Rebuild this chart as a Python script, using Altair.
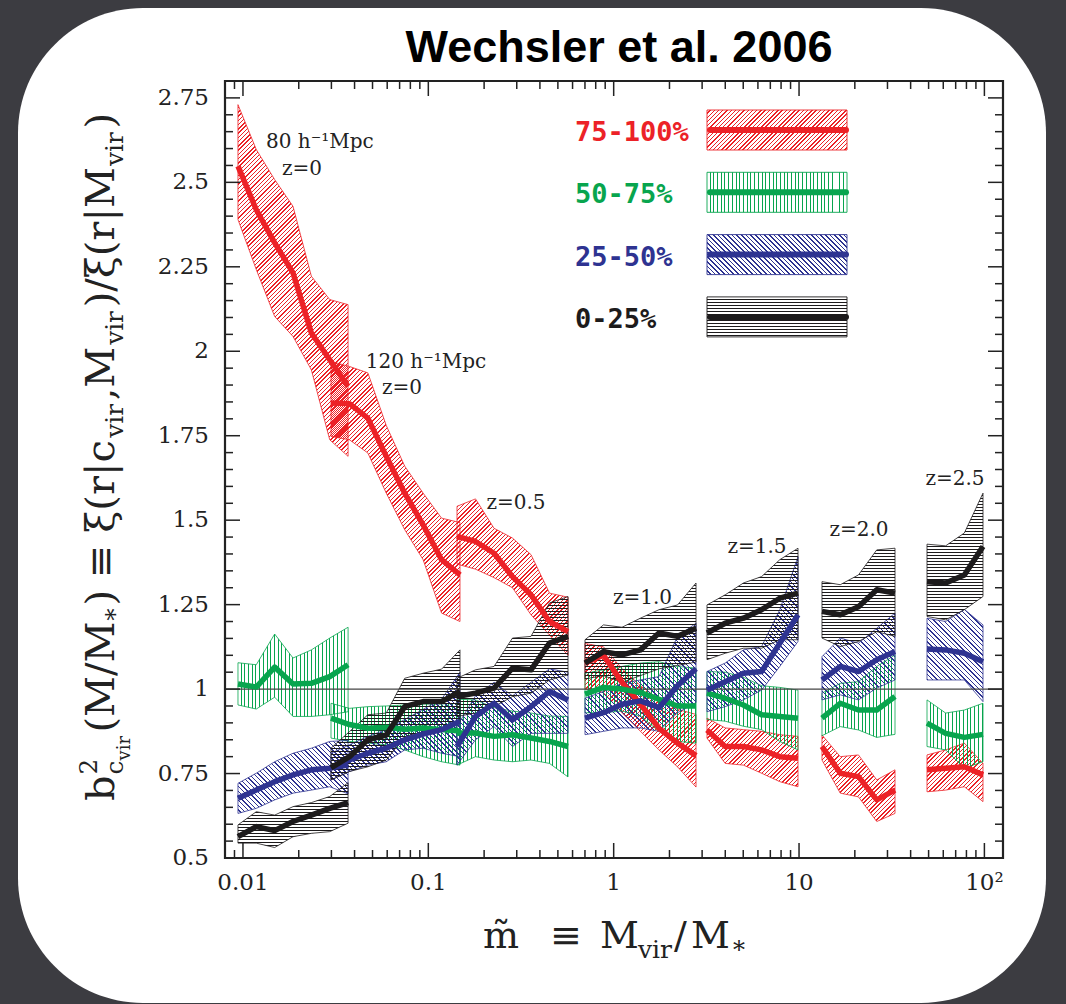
import math
import altair as alt
import pandas as pd

# ------------------------------------------------------------------ data
SERIES = ["75-100%", "50-75%", "25-50%", "0-25%"]

# mass bins (M_vir / M_*) of the seven simulation / redshift segments
X_SEG = [
    [0.00940, 0.01180, 0.01483, 0.01862, 0.02339, 0.02938, 0.03690],
    [0.02985, 0.03753, 0.04718, 0.05932, 0.07458, 0.09376, 0.1179, 0.1482],
    [0.1428, 0.1797, 0.2262, 0.2845, 0.3580, 0.4506, 0.5670],
    [0.7003, 0.8812, 1.109, 1.395, 1.756, 2.210, 2.781],
    [3.187, 3.995, 5.010, 6.281, 7.875, 9.872],
    [13.30, 16.69, 20.93, 26.26, 32.94],
    [49.02, 61.81, 77.95, 98.28],
]

RED_MID = [
    [2.548, 2.419, 2.321, 2.232, 2.054, 1.975, 1.896],
    [1.847, 1.845, 1.802, 1.689, 1.580, 1.486, 1.383, 1.338],
    [1.452, 1.437, 1.402, 1.333, 1.279, 1.200, 1.170],
    [1.077, 1.100, 1.020, 0.955, 0.884, 0.840, 0.803],
    [0.879, 0.830, 0.830, 0.820, 0.800, 0.795],
    [0.830, 0.751, 0.741, 0.672, 0.701],
    [0.761, 0.766, 0.770, 0.746],
]
RED_HI = [
    [2.730, 2.597, 2.508, 2.429, 2.222, 2.153, 2.138],
    [1.970, 1.955, 1.936, 1.780, 1.660, 1.580, 1.506, 1.493],
    [1.541, 1.563, 1.476, 1.447, 1.398, 1.284, 1.272],
    [1.135, 1.125, 1.060, 1.010, 0.970, 0.940, 0.925],
    [0.914, 0.885, 0.880, 0.875, 0.865, 0.860],
    [0.864, 0.800, 0.805, 0.731, 0.761],
    [0.805, 0.820, 0.840, 0.780],
]
RED_LO = [
    [2.390, 2.242, 2.103, 2.044, 1.945, 1.738, 1.689],
    [1.748, 1.738, 1.699, 1.580, 1.472, 1.383, 1.225, 1.200],
    [1.370, 1.355, 1.330, 1.300, 1.220, 1.160, 1.100],
    [1.000, 0.990, 0.930, 0.875, 0.820, 0.770, 0.710],
    [0.855, 0.780, 0.775, 0.751, 0.726, 0.711],
    [0.790, 0.692, 0.681, 0.608, 0.632],
    [0.696, 0.701, 0.711, 0.667],
]
GRN_MID = [
    [1.015, 1.006, 1.065, 1.015, 1.017, 1.037, 1.072],
    [0.914, 0.895, 0.884, 0.887, 0.881, 0.885, 0.880, 0.876],
    [0.870, 0.870, 0.860, 0.865, 0.855, 0.845, 0.830],
    [0.985, 1.005, 1.000, 0.990, 0.970, 0.950, 0.950],
    [0.988, 0.973, 0.953, 0.924, 0.919, 0.914],
    [0.914, 0.958, 0.938, 0.938, 0.978],
    [0.899, 0.869, 0.857, 0.866],
]
GRN_HI = [
    [1.078, 1.072, 1.163, 1.092, 1.116, 1.151, 1.183],
    [0.958, 0.943, 0.948, 0.950, 0.953, 0.956, 0.956, 0.958],
    [0.970, 0.968, 0.945, 0.935, 0.929, 0.920, 0.919],
    [1.047, 1.057, 1.067, 1.077, 1.081, 1.067, 1.062],
    [1.052, 1.050, 1.035, 1.010, 1.005, 0.997],
    [0.988, 1.017, 1.022, 1.067, 1.101],
    [0.968, 0.929, 0.938, 0.958],
]
GRN_LO = [
    [0.953, 0.941, 0.976, 0.919, 0.919, 0.924, 0.933],
    [0.855, 0.845, 0.840, 0.835, 0.820, 0.800, 0.785, 0.775],
    [0.775, 0.800, 0.790, 0.785, 0.790, 0.780, 0.740],
    [0.930, 0.930, 0.935, 0.920, 0.875, 0.845, 0.840],
    [0.910, 0.905, 0.890, 0.880, 0.845, 0.820],
    [0.862, 0.889, 0.879, 0.857, 0.866],
    [0.830, 0.820, 0.766, 0.785],
]
BLU_MID = [
    [0.677, 0.701, 0.726, 0.746, 0.761, 0.766, 0.775],
    [0.767, 0.790, 0.810, 0.825, 0.850, 0.867, 0.880, 0.905],
    [0.830, 0.919, 0.958, 0.909, 0.948, 0.993, 0.968],
    [0.914, 0.930, 0.955, 0.965, 0.945, 1.010, 1.060],
    [0.997, 1.022, 1.047, 1.052, 1.136, 1.220],
    [1.027, 1.067, 1.052, 1.087, 1.111],
    [1.119, 1.116, 1.106, 1.081],
]
BLU_HI = [
    [0.721, 0.751, 0.785, 0.810, 0.825, 0.845, 0.848],
    [0.810, 0.835, 0.860, 0.880, 0.910, 0.940, 0.970, 1.050],
    [0.890, 0.980, 1.020, 0.980, 1.020, 1.060, 1.050],
    [0.973, 0.993, 1.017, 1.027, 1.037, 1.156, 1.195],
    [1.052, 1.077, 1.116, 1.126, 1.235, 1.392],
    [1.096, 1.151, 1.136, 1.180, 1.225],
    [1.210, 1.200, 1.236, 1.190],
]
BLU_LO = [
    [0.632, 0.647, 0.672, 0.692, 0.701, 0.711, 0.690],
    [0.731, 0.756, 0.775, 0.785, 0.820, 0.825, 0.810, 0.800],
    [0.775, 0.850, 0.889, 0.830, 0.869, 0.869, 0.869],
    [0.865, 0.875, 0.885, 0.885, 0.875, 0.930, 0.960],
    [0.933, 0.948, 0.968, 0.997, 1.067, 1.141],
    [0.968, 0.983, 0.968, 1.003, 1.027],
    [1.027, 1.027, 1.027, 0.963],
]
BLK_MID = [
    [0.563, 0.593, 0.581, 0.608, 0.627, 0.647, 0.664],
    [0.767, 0.800, 0.850, 0.864, 0.948, 0.963, 0.963, 0.993],
    [0.978, 0.988, 1.003, 1.062, 1.057, 1.136, 1.156],
    [1.077, 1.111, 1.101, 1.116, 1.166, 1.156, 1.180],
    [1.166, 1.195, 1.210, 1.235, 1.269, 1.284],
    [1.230, 1.220, 1.244, 1.294, 1.284],
    [1.318, 1.314, 1.338, 1.422],
]
BLK_HI = [
    [0.598, 0.637, 0.627, 0.652, 0.664, 0.682, 0.723],
    [0.825, 0.874, 0.924, 0.929, 1.032, 1.047, 1.059, 1.116],
    [1.032, 1.057, 1.067, 1.151, 1.156, 1.255, 1.274],
    [1.146, 1.190, 1.183, 1.210, 1.235, 1.249, 1.314],
    [1.249, 1.279, 1.314, 1.333, 1.383, 1.417],
    [1.318, 1.309, 1.338, 1.412, 1.417],
    [1.429, 1.424, 1.462, 1.580],
]
BLK_LO = [
    [0.544, 0.544, 0.531, 0.563, 0.573, 0.578, 0.603],
    [0.731, 0.756, 0.770, 0.790, 0.859, 0.874, 0.884, 0.899],
    [0.919, 0.929, 0.948, 0.978, 0.988, 1.027, 1.042],
    [1.030, 1.040, 1.020, 1.040, 1.060, 1.070, 1.080],
    [1.087, 1.106, 1.121, 1.121, 1.146, 1.146],
    [1.151, 1.126, 1.141, 1.170, 1.156],
    [1.215, 1.205, 1.235, 1.274],
]

ANNOT_TEXT = ["80 h\u207b\u00b9Mpc", "z=0", "120 h\u207b\u00b9Mpc", "z=0", "z=0.5",
              "z=1.0", "z=1.5", "z=2.0", "z=2.5"]
ANNOT_X = [0.0260, 0.0208, 0.0972, 0.0721, 0.297, 1.431, 5.93, 21.06, 69.4]
ANNOT_Y = [2.619, 2.540, 1.968, 1.891, 1.551, 1.270, 1.421, 1.471, 1.622]

X_MAJOR = [0.01, 0.1, 1, 10, 100]
X_LABELS = ["0.01", "0.1", "1", "10", "10\u00b2"]
Y_MAJOR = [0.5, 0.75, 1.0, 1.25, 1.5, 1.75, 2.0, 2.25, 2.5, 2.75]
Y_LABELS = ["0.5", "0.75", "1", "1.25", "1.5", "1.75", "2", "2.25", "2.5", "2.75"]

# ------------------------------------------------------------------ styling
COLORS = {"75-100%": "#ec2227", "50-75%": "#08a54e", "25-50%": "#2e3391", "0-25%": "#1d1b1c"}
HATCH = {"75-100%": ("f", 3.0), "50-75%": ("v", 3.7), "25-50%": ("b", 3.3), "0-25%": ("h", 3.0)}
TABLE = {"75-100%": (RED_MID, RED_LO, RED_HI), "50-75%": (GRN_MID, GRN_LO, GRN_HI),
         "25-50%": (BLU_MID, BLU_LO, BLU_HI), "0-25%": (BLK_MID, BLK_LO, BLK_HI)}

XDOM = [0.008, 126.0]
YDOM = [0.5, 2.8]
PW, PH = 778, 777
OX, OY = 225, 81
INK = "#222222"
CLEAR = "rgba(255,255,255,0)"

XS = alt.Scale(type="log", domain=XDOM, nice=False)
YS = alt.Scale(domain=YDOM, nice=False, zero=False)
LX0, LX1 = math.log10(XDOM[0]), math.log10(XDOM[1])


def px(x):
    return (math.log10(x) - LX0) / (LX1 - LX0) * PW


def py(y):
    return (YDOM[1] - y) / (YDOM[1] - YDOM[0]) * PH


def hatch_fill(kind, color, W, H, period, lw=1.0):
    W = max(W, 1.0)
    H = max(H, 1.0)
    if kind == "h":
        g = dict(x1=0, y1=0, x2=0, y2=1)
        L = H
    elif kind == "v":
        g = dict(x1=0, y1=0, x2=1, y2=0)
        L = W
    else:
        k = (W + H) / (W * W + H * H)
        if kind == "f":
            g = dict(x1=0, y1=0, x2=k * W, y2=k * H)
        else:
            g = dict(x1=0, y1=1, x2=k * W, y2=1 - k * H)
        L = (W + H) / math.sqrt(2)
    stops = []
    pos = 0.0
    while pos < L - 1e-9:
        a = min(pos + period - lw, L)
        b = min(pos + period, L)
        stops += [(pos / L, CLEAR), (a / L, CLEAR), (a / L, color), (b / L, color)]
        pos += period
    return alt.LinearGradient(
        gradient="linear",
        stops=[alt.GradientStop(color=c, offset=round(min(o, 1.0), 5)) for o, c in stops],
        **g,
    )


rows = []
for s in SERIES:
    mid, lo, hi = TABLE[s]
    for j, xs in enumerate(X_SEG):
        for i, x in enumerate(xs):
            rows.append(dict(series=s, seg=j, x=x, mid=mid[j][i], lo=lo[j][i], hi=hi[j][i]))
df = pd.DataFrame(rows)
ONE = pd.DataFrame({"k": [0]})

layers = []

# white rounded panel
layers.append(
    alt.Chart(ONE).mark_rect(color="white", cornerRadius=125).encode(
        x=alt.value(18 - OX), x2=alt.value(1046 - OX), y=alt.value(8 - OY), y2=alt.value(1003 - OY)
    )
)

# hatched bands
for s in SERIES:
    kind, period = HATCH[s]
    for j in range(len(X_SEG)):
        sub = df[(df.series == s) & (df.seg == j)]
        W = px(sub.x.max()) - px(sub.x.min())
        H = py(sub.lo.min()) - py(sub.hi.max())
        layers.append(
            alt.Chart(sub).mark_area(
                fill=hatch_fill(kind, COLORS[s], W, H, period),
                stroke=COLORS[s], strokeWidth=0.8,
            ).encode(
                x=alt.X("x:Q", scale=XS, axis=None),
                y=alt.Y("hi:Q", scale=YS, axis=None),
                y2=alt.Y2("lo:Q"),
            )
        )

# reference line at 1
layers.append(
    alt.Chart(ONE).mark_rule(color="#444444", strokeWidth=1.1).encode(
        y=alt.Y(datum=1.0, scale=YS, axis=None)
    )
)

# median lines
for s in SERIES:
    layers.append(
        alt.Chart(df[df.series == s]).mark_line(
            color=COLORS[s], strokeWidth=5.5, strokeJoin="round"
        ).encode(
            x=alt.X("x:Q", scale=XS, axis=None),
            y=alt.Y("mid:Q", scale=YS, axis=None),
            detail="seg:N",
        )
    )

# ticks (inward, all four sides)
x_minor = [k * 10.0 ** e for e in (-3, -2, -1, 0, 1) for k in range(2, 10)
           if XDOM[0] * 1.0001 < k * 10.0 ** e < XDOM[1]]
y_minor = [round(0.5 + 0.05 * i, 2) for i in range(1, 46) if i % 5 != 0]
MAJ, MIN = 15, 8
xt_major = pd.DataFrame({"x": X_MAJOR, "lab": X_LABELS})
xt_minor = pd.DataFrame({"x": x_minor})
yt_major = pd.DataFrame({"y": Y_MAJOR, "lab": Y_LABELS})
yt_minor = pd.DataFrame({"y": y_minor})
tick = dict(color=INK, strokeWidth=1.5)
XQ = alt.X("x:Q", scale=XS, axis=None)
YQ = alt.Y("y:Q", scale=YS, axis=None)
layers += [
    alt.Chart(xt_major).mark_rule(**tick).encode(x=XQ, y=alt.value(PH), y2=alt.value(PH - MAJ)),
    alt.Chart(xt_major).mark_rule(**tick).encode(x=XQ, y=alt.value(0), y2=alt.value(MAJ)),
    alt.Chart(xt_minor).mark_rule(**tick).encode(x=XQ, y=alt.value(PH), y2=alt.value(PH - MIN)),
    alt.Chart(xt_minor).mark_rule(**tick).encode(x=XQ, y=alt.value(0), y2=alt.value(MIN)),
    alt.Chart(yt_major).mark_rule(**tick).encode(y=YQ, x=alt.value(0), x2=alt.value(MAJ)),
    alt.Chart(yt_major).mark_rule(**tick).encode(y=YQ, x=alt.value(PW), x2=alt.value(PW - MAJ)),
    alt.Chart(yt_minor).mark_rule(**tick).encode(y=YQ, x=alt.value(0), x2=alt.value(MIN)),
    alt.Chart(yt_minor).mark_rule(**tick).encode(y=YQ, x=alt.value(PW), x2=alt.value(PW - MIN)),
    # tick labels
    alt.Chart(xt_major).mark_text(font="DejaVu Serif", fontSize=23, color=INK, align="center",
                                  baseline="alphabetic").encode(
        x=XQ, y=alt.value(890 - OY), text="lab:N"),
    alt.Chart(yt_major).mark_text(font="DejaVu Serif", fontSize=23, color=INK, align="right",
                                  baseline="middle").encode(
        y=YQ, x=alt.value(209 - OX), text="lab:N"),
]

# frame
layers.append(
    alt.Chart(ONE).mark_rect(filled=False, stroke=INK, strokeWidth=2.2).encode(
        x=alt.value(0), x2=alt.value(PW), y=alt.value(0), y2=alt.value(PH)
    )
)

# legend
LEG_X0, LEG_X1 = 707 - OX, 847 - OX
for i, s in enumerate(SERIES):
    cy = 130 - OY + 62.3 * i
    kind, period = HATCH[s]
    layers.append(
        alt.Chart(ONE).mark_rect(
            fill=hatch_fill(kind, COLORS[s], LEG_X1 - LEG_X0, 40, period),
            stroke=COLORS[s], strokeWidth=0.9,
        ).encode(x=alt.value(LEG_X0), x2=alt.value(LEG_X1), y=alt.value(cy - 20), y2=alt.value(cy + 20))
    )
    layers.append(
        alt.Chart(ONE).mark_rule(color=COLORS[s], strokeWidth=6, strokeCap="round").encode(
            x=alt.value(LEG_X0 + 3), x2=alt.value(LEG_X1 - 1), y=alt.value(cy))
    )
    layers.append(
        alt.Chart(ONE).mark_text(
            text=s, font="DejaVu Sans Mono", fontWeight="bold", fontSize=27,
            color=COLORS[s], align="left", baseline="middle",
        ).encode(x=alt.value(575 - OX), y=alt.value(cy + 3))
    )

# annotations
ann = pd.DataFrame({"t": ANNOT_TEXT, "x": ANNOT_X, "y": ANNOT_Y})
layers.append(
    alt.Chart(ann).mark_text(font="DejaVu Serif", fontSize=20, color=INK,
                             align="center", baseline="middle").encode(
        x=alt.X("x:Q", scale=XS, axis=None), y=alt.Y("y:Q", scale=YS, axis=None), text="t:N")
)

# title
layers.append(
    alt.Chart(ONE).mark_text(
        text="Wechsler et al. 2006", font="Liberation Sans Narrow, Liberation Sans, Arial, sans-serif",
        fontWeight="bold", fontSize=45, color="black", align="center", baseline="alphabetic",
    ).encode(x=alt.value(619 - OX), y=alt.value(62 - OY))
)

# x-axis title pieces
X_PIECES = [("m\u0303", 38, 483, 948), ("\u2261", 38, 550, 948), ("M", 38, 600, 948),
            ("vir", 25, 638, 958), ("/", 38, 674, 948), ("M", 38, 691, 948), ("*", 24, 733, 958)]
for t, fs, x0, y0 in X_PIECES:
    layers.append(
        alt.Chart(ONE).mark_text(text=t, font="DejaVu Serif", fontSize=fs, color=INK,
                                 align="left", baseline="alphabetic").encode(
            x=alt.value(x0 - OX), y=alt.value(y0 - OY))
    )

# y-axis title pieces (rotated)
ADV = {"b": 0.640, "2": 0.636, "c": 0.560, "v": 0.592, "i": 0.320, "r": 0.478, "(": 0.390,
       ")": 0.390, "M": 0.995, "/": 0.337, "*": 0.500, "\u2261": 0.838, "\u03be": 0.532,
       "|": 0.337, ",": 0.318}


def tw(s, size):
    return sum(ADV.get(ch, 0.6) for ch in s) * size


F, GAP = 40, 3
YB = 114 - OX
cur = 801 - OY
Y_PIECES = []


def yput(text, size, shift, at):
    Y_PIECES.append((text, size, YB - shift, at))


yput("b", F, 0, cur)
cur -= tw("b", F) + 1
yput("2", 0.62 * F, 0.42 * F, cur)
yput("c", 0.62 * F, -0.22 * F, cur)
yput("vir", 0.45 * F, -0.40 * F, cur - tw("c", 0.62 * F))
cur -= max(tw("2", 0.62 * F), tw("c", 0.62 * F) + tw("vir", 0.45 * F)) + GAP
for text, kind in [("(M/M", "n"), ("*", "s"), (")", "n"), ("\u2261", "n"), ("\u03be(r|c", "n"),
                   ("vir", "s"), (",M", "n"), ("vir", "s"), (")/\u03be(r|M", "n"), ("vir", "s"),
                   (")", "n")]:
    size, shift = (F, 0) if kind == "n" else (0.62 * F, -0.22 * F)
    extra = 0.22 * F if text == "\u2261" else 0
    cur -= extra
    yput(text, size, shift, cur)
    cur -= tw(text, size) + GAP + extra

for t, fs, x0, y0 in Y_PIECES:
    layers.append(
        alt.Chart(ONE).mark_text(text=t, font="DejaVu Serif", fontSize=fs, color=INK, angle=270,
                                 align="left", baseline="alphabetic").encode(
            x=alt.value(x0), y=alt.value(y0))
    )

chart = alt.layer(*layers).properties(
    width=PW, height=PH,
    padding={"left": OX, "top": OY, "right": 1066 - OX - PW, "bottom": 1004 - OY - PH},
    autosize=alt.AutoSizeParams(type="none"),
    background="#3c3c41",
).configure_view(stroke="transparent")

chart.save("out.html", embed_options={"renderer": "svg", "actions": False})
